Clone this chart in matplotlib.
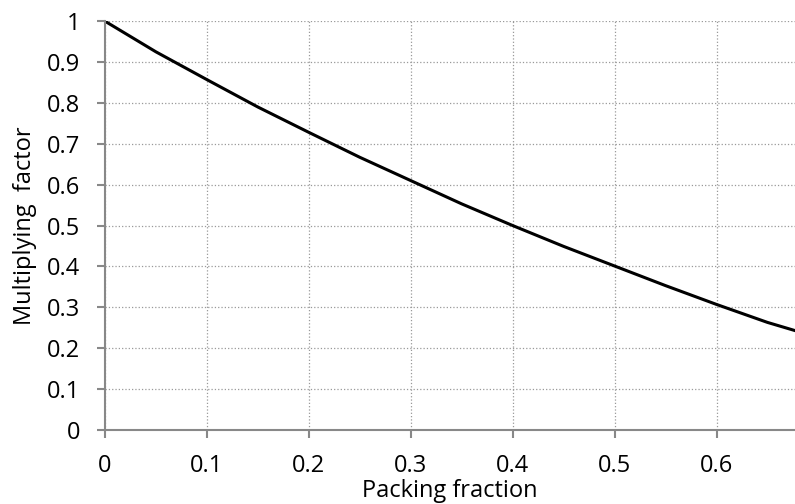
import numpy as np
import matplotlib.pyplot as plt

packing_fraction = [0.0, 0.05, 0.1, 0.15, 0.2, 0.25, 0.3, 0.35, 0.4, 0.45, 0.5, 0.55, 0.6, 0.65, 0.677]
multiplying_factor = [1.0, 0.925, 0.857, 0.79, 0.728, 0.667, 0.61, 0.553, 0.5, 0.449, 0.401, 0.353, 0.307, 0.263, 0.243]

plt.rcParams['font.family'] = ['Open Sans', 'DejaVu Sans']

fig = plt.figure(figsize=(7.95, 5.04), dpi=100)
ax = fig.add_axes([0.132, 0.147, 0.868, 0.811])

ax.plot(packing_fraction, multiplying_factor, color='black', linewidth=2.2)

ax.set_xlim(0, 0.677)
ax.set_ylim(0, 1)
ax.set_xticks(np.arange(0, 0.61, 0.1))
ax.set_yticks(np.arange(0, 1.01, 0.1))
ax.set_xticklabels(['0', '0.1', '0.2', '0.3', '0.4', '0.5', '0.6'])
ax.set_yticklabels(['0', '0.1', '0.2', '0.3', '0.4', '0.5', '0.6', '0.7', '0.8', '0.9', '1'])

ax.grid(True, linestyle=':', color='#999999', linewidth=0.9)
for side in ['top', 'right']:
    ax.spines[side].set_visible(False)
for side in ['left', 'bottom']:
    ax.spines[side].set_color('#888888')
    ax.spines[side].set_linewidth(1.5)
ax.tick_params(colors='#888888', labelcolor='black', labelsize=17, width=1.5, length=6)
ax.tick_params(axis='x', pad=11)
ax.tick_params(axis='y', pad=12)

ax.set_xlabel('Packing fraction', fontsize=17, labelpad=1)
ax.set_ylabel('Multiplying  factor', fontsize=17, labelpad=7)

plt.savefig('out.png')
